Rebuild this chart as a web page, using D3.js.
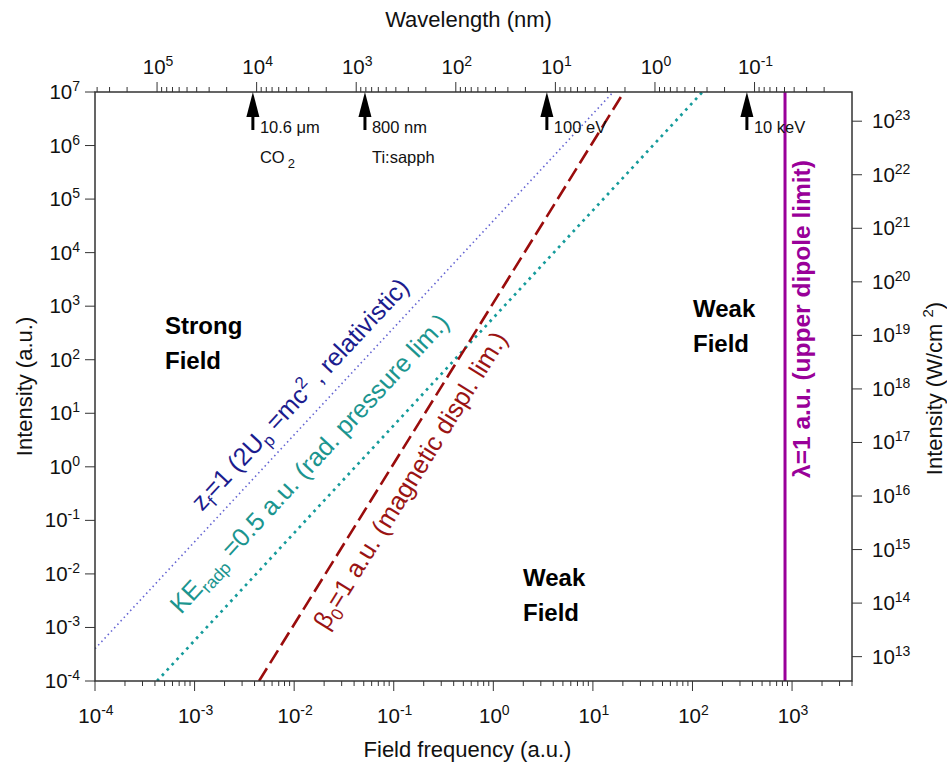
<!DOCTYPE html>
<html><head><meta charset="utf-8">
<script src="https://cdn.jsdelivr.net/npm/d3@7"></script>
<style>body{margin:0;background:#fff}svg{display:block}text{font-family:"Liberation Sans",Arial,sans-serif}</style>
</head><body>
<svg id="c" width="947" height="765"></svg>
<script>
// ---------- data ----------
const freqDomain = [1e-4, 4000];           // field frequency (a.u.)
const intDomain = [1e-4, 1e7];             // intensity (a.u.)
const freqTickExp = [-4, -3, -2, -1, 0, 1, 2, 3];
const intTickExp = [-4, -3, -2, -1, 0, 1, 2, 3, 4, 5, 6, 7];
const wlTickExp = [5, 4, 3, 2, 1, 0, -1];
const wcmTickExp = [13, 14, 15, 16, 17, 18, 19, 20, 21, 22, 23];
const WL_CONST = 42;        // wavelength(nm) * frequency(a.u.)
const AU_INT = 3.51e16;     // W/cm^2 per a.u. intensity

// boundary lines: endpoints
const zfFreq = [1e-4, 16];      const zfInt = [4.0e-4, 1e7];
const keFreq = [4.2e-4, 126];   const keInt = [1e-4, 1e7];
const betaFreq = [4.44e-3, 20.5]; const betaInt = [1e-4, 1e7];
const dipoleFreq = [850, 850];  const dipoleInt = [1e-4, 1e7];

// source markers
const arrowFreq = [3.85e-3, 0.0514, 3.45, 352];
const arrowLabel1 = ["10.6\u00a0\u03bcm", "800 nm", "100 eV", "10 keV"];
const arrowLabel2 = ["CO", "Ti:sapph", "", ""];

// ---------- scales ----------
const L = 95, T = 92, R = 852, B = 681;
const svg = d3.select("#c");
const x = d3.scaleLog().domain(freqDomain).range([L, R]);
const y = d3.scaleLog().domain(intDomain).range([B, T]);
const xTop = d3.scaleLog().domain([WL_CONST / freqDomain[0], WL_CONST / freqDomain[1]]).range([L, R]);
const yR = d3.scaleLog().domain([intDomain[0] * AU_INT, intDomain[1] * AU_INT]).range([B, T]);

const axisCol = "#333";
const isMajor = v => Math.abs(Math.log10(v) - Math.round(Math.log10(v))) < 1e-6;

function drawTicks(scale, orient, pos) {
  const ticks = scale.ticks();
  const g = svg.append("g").attr("stroke", axisCol).attr("stroke-width", 1);
  ticks.forEach(v => {
    const p = scale(v);
    const len = isMajor(v) ? 10 : 5;
    if (orient === "bottom") g.append("line").attr("x1", p).attr("x2", p).attr("y1", pos).attr("y2", pos + len);
    if (orient === "top") g.append("line").attr("x1", p).attr("x2", p).attr("y1", pos).attr("y2", pos - len);
    if (orient === "left") g.append("line").attr("y1", p).attr("y2", p).attr("x1", pos).attr("x2", pos - len);
    if (orient === "right") g.append("line").attr("y1", p).attr("y2", p).attr("x1", pos).attr("x2", pos + len);
  });
}
drawTicks(x, "bottom", B);
drawTicks(xTop, "top", T);
drawTicks(y, "left", L);
drawTicks(yR, "right", R);

function powLabel(px, py, exp, anchor) {
  const t = svg.append("text").attr("x", px).attr("y", py).attr("text-anchor", anchor)
    .attr("font-size", 20.5).attr("fill", "#111");
  t.append("tspan").text("10");
  t.append("tspan").attr("dy", -8).attr("font-size", 14).text(exp);
  return t;
}
freqTickExp.forEach(e => powLabel(x(Math.pow(10, e)) + 1, 723, e, "middle"));
wlTickExp.forEach(e => powLabel(xTop(Math.pow(10, e)) + 1, 74, e, "middle"));
intTickExp.forEach(e => powLabel(80, y(Math.pow(10, e)) + 7, e, "end"));
wcmTickExp.forEach(e => powLabel(872, yR(Math.pow(10, e)) + 7, e, "start"));

// axis titles
svg.append("text").attr("x", (L + R) / 2 - 5).attr("y", 27).attr("text-anchor", "middle")
  .attr("font-size", 22).attr("fill", "#111").text("Wavelength (nm)");
svg.append("text").attr("x", (L + R) / 2 - 6).attr("y", 757).attr("text-anchor", "middle")
  .attr("font-size", 22).attr("fill", "#111").text("Field frequency (a.u.)");
svg.append("text").attr("transform", `translate(32,${(T + B) / 2}) rotate(-90)`).attr("text-anchor", "middle")
  .attr("font-size", 22).attr("fill", "#111").text("Intensity (a.u.)");
const rt = svg.append("text").attr("transform", `translate(942,${(T + B) / 2 + 2}) rotate(-90)`).attr("text-anchor", "middle")
  .attr("font-size", 22).attr("fill", "#111");
rt.append("tspan").text("Intensity (W/cm ");
rt.append("tspan").attr("dy", -9).attr("font-size", 15).text("2");
rt.append("tspan").attr("dy", 9).text(")");

// ---------- lines ----------
svg.append("clipPath").attr("id", "clip").append("rect").attr("x", L).attr("y", T).attr("width", R - L).attr("height", B - T);
const plot = svg.append("g").attr("clip-path", "url(#clip)");
const line = d3.line().x(d => x(d[0])).y(d => y(d[1]));
const series = [
  {f: zfFreq, i: zfInt, color: "#6464d2", w: 1.6, dash: "1.5,3.2"},
  {f: keFreq, i: keInt, color: "#159b9b", w: 2.7, dash: "2.7,4.5"},
  {f: betaFreq, i: betaInt, color: "#9a0c0c", w: 2.6, dash: "15,6"},
  {f: dipoleFreq, i: dipoleInt, color: "#990099", w: 3, dash: null}
];
series.forEach(s => {
  plot.append("path").datum(d3.zip(s.f, s.i)).attr("d", line).attr("fill", "none")
    .attr("stroke", s.color).attr("stroke-width", s.w).attr("stroke-dasharray", s.dash);
});

// frame
svg.append("rect").attr("x", L).attr("y", T).attr("width", R - L).attr("height", B - T)
  .attr("fill", "none").attr("stroke", axisCol).attr("stroke-width", 1.5);

// ---------- arrows ----------
arrowFreq.forEach((f, k) => {
  const px = x(f);
  svg.append("path").attr("d", `M${px},${T} L${px - 6.5},${T + 25} L${px + 6.5},${T + 25} Z`).attr("fill", "#000");
  svg.append("line").attr("x1", px).attr("x2", px).attr("y1", T + 20).attr("y2", T + 38).attr("stroke", "#000").attr("stroke-width", 3);
  svg.append("text").attr("x", px + 7).attr("y", 133).attr("font-size", 16.5).attr("fill", "#111").text(arrowLabel1[k]);
  if (arrowLabel2[k]) {
    const t = svg.append("text").attr("x", px + 7).attr("y", 163).attr("font-size", 16.5).attr("fill", "#111");
    t.append("tspan").text(arrowLabel2[k]);
    if (k === 0) t.append("tspan").attr("dx", 3).attr("dy", 5).attr("font-size", 13).text("2");
  }
});

// ---------- region labels ----------
function region(px, py, lines) {
  lines.forEach((s, k) => svg.append("text").attr("x", px).attr("y", py + k * 35)
    .attr("font-size", 24).attr("font-weight", "bold").attr("fill", "#000").text(s));
}
region(165, 334, ["Strong", "Field"]);
region(693, 317, ["Weak", "Field"]);
region(523, 586, ["Weak", "Field"]);

// ---------- line labels ----------
function angleOf(fr, it) {
  return Math.atan2(y(it[1]) - y(it[0]), x(fr[1]) - x(fr[0])) * 180 / Math.PI;
}
function rich(px, py, ang, color, size, parts, bold) {
  const t = svg.append("text").attr("transform", `translate(${px},${py}) rotate(${ang})`)
    .attr("font-size", size).attr("fill", color).attr("font-weight", bold ? "bold" : null);
  let shift = 0;
  parts.forEach(p => {
    const ts = t.append("tspan").text(p.t);
    const target = p.sub ? 6 : p.sup ? -10 : 0;
    if (target !== shift) { ts.attr("dy", target - shift); shift = target; }
    if (p.sub || p.sup) ts.attr("font-size", size * 0.68);
  });
}
rich(x(1.06e-3) + 5, y(0.178) + 5, angleOf(zfFreq, zfInt), "#1c1c8e", 25,
  [{t: "z"}, {t: "f", sub: 1}, {t: "=1 (2U"}, {t: "p", sub: 1}, {t: " =mc"}, {t: "2", sup: 1}, {t: " , relativistic)"}]);
rich(x(6.5e-4) + 5, y(1.95e-3) + 3, angleOf(keFreq, keInt), "#1b958f", 25.5,
  [{t: "KE"}, {t: "radp", sub: 1}, {t: " =0.5 a.u. (rad. pressure lim.)"}]);
rich(x(0.0162) + 12, y(9.8e-4) + 3, angleOf(betaFreq, betaInt), "#9a1414", 25.5,
  [{t: "\u03b2"}, {t: "0", sub: 1}, {t: "=1 a.u. (magnetic displ. lim.)"}]);
rich(810, y(0.62), -90, "#990099", 24.5, [{t: "\u03bb=1 a.u. (upper dipole limit)"}], true);
</script>
</body></html>
